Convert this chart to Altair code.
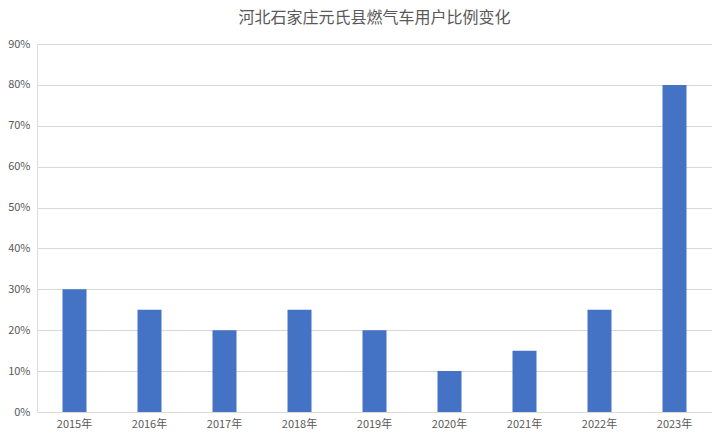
import altair as alt
import pandas as pd

years = ["2015年", "2016年", "2017年", "2018年", "2019年", "2020年", "2021年", "2022年", "2023年"]
shares = [0.30, 0.25, 0.20, 0.25, 0.20, 0.10, 0.15, 0.25, 0.80]
title_text = "河北石家庄元氏县燃气车用户比例变化"

df = pd.DataFrame({"year": years, "share": shares})

font = "Noto Sans CJK SC"

chart = alt.Chart(df).mark_bar(color="#4472C4").encode(
    x=alt.X("year:N", sort=years, title=None,
            scale=alt.Scale(paddingInner=0.68, paddingOuter=0.34),
            axis=alt.Axis(labelAngle=0, ticks=False, domain=False, labelPadding=6,
                          labelFont=font, labelFontSize=11, labelColor="#595959")),
    y=alt.Y("share:Q", title=None,
            scale=alt.Scale(domain=[0, 0.9], nice=False),
            axis=alt.Axis(format=".0%", values=[i / 10 for i in range(10)], ticks=False, domain=False,
                          labelPadding=7, labelFont=font, labelFontSize=11, labelColor="#595959",
                          gridColor="#d9d9d9", gridWidth=1)),
).properties(
    width=675, height=368,
    title=alt.TitleParams(title_text, font=font, fontSize=16, fontWeight="normal",
                          color="#595959", anchor="middle", offset=12),
    autosize=alt.AutoSizeParams(type="none"),
    padding={"left": 29, "top": 36, "right": 0, "bottom": 20},
).configure_view(stroke=None).configure(background="white")

chart.save("out.html", embed_options={"renderer": "svg", "actions": False})
